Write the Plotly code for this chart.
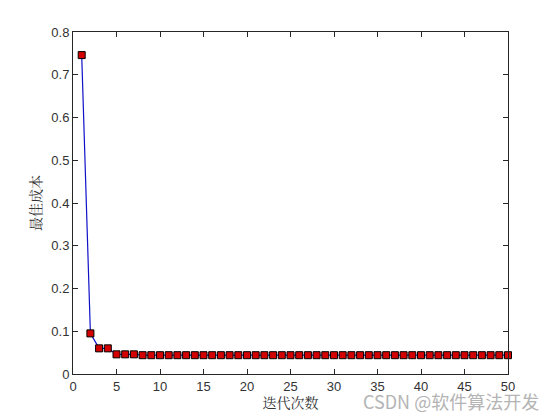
import plotly.graph_objects as go

# iteration vs best cost
iterations = list(range(1, 51))
best_cost = [0.746, 0.095, 0.060, 0.060, 0.046, 0.046, 0.046] + [0.044] * 43

x_ticks = [0, 5, 10, 15, 20, 25, 30, 35, 40, 45, 50]
y_ticks = [0, 0.1, 0.2, 0.3, 0.4, 0.5, 0.6, 0.7, 0.8]
y_tick_text = ['0', '0.1', '0.2', '0.3', '0.4', '0.5', '0.6', '0.7', '0.8']

fig = go.Figure(go.Scatter(
    x=iterations,
    y=best_cost,
    mode='lines+markers',
    line=dict(color='#1010c8', width=1.2),
    marker=dict(symbol='square', size=7, color='#d40000',
                line=dict(color='#000000', width=1)),
    showlegend=False,
    cliponaxis=False
))

axis_common = dict(
    showline=True, linecolor='#262626', linewidth=1, mirror='ticks',
    ticks='inside', ticklen=5, tickcolor='#262626', showgrid=False,
    zeroline=False, automargin=False,
    tickfont=dict(family='Liberation Sans, Arial', size=13, color='#333333')
)

# the page body has an 8px margin, so the figure is shrunk to fit 560x420
fig.update_layout(
    width=544, height=404,
    paper_bgcolor='white', plot_bgcolor='white',
    margin=dict(l=65, r=44, t=24, b=38),
    xaxis=dict(range=[0, 50], tickvals=x_ticks, tickmode='array',
               title=dict(text='迭代次数', standoff=4,
                          font=dict(family='Noto Serif CJK SC, Noto Sans CJK SC', size=14, color='#333333')),
               **axis_common),
    yaxis=dict(range=[0, 0.8], tickvals=y_ticks, ticktext=y_tick_text, tickmode='array',
               title=dict(text='最佳成本', standoff=6,
                          font=dict(family='Noto Serif CJK SC, Noto Sans CJK SC', size=14, color='#333333')),
               **axis_common),
)

# watermark
fig.add_annotation(text='CSDN @软件算法开发', xref='paper', yref='paper',
                   x=1.075, y=-0.08, xanchor='right', yanchor='middle', showarrow=False,
                   font=dict(family='Noto Sans CJK SC, Liberation Sans', size=18, color='#b4b4b4'))

fig.write_html("out.html")
